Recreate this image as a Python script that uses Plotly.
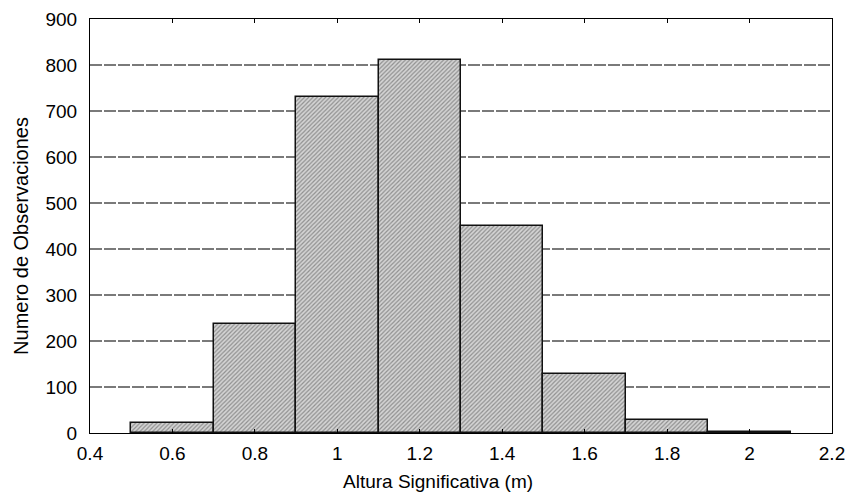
import plotly.graph_objects as go

# Histogram of significant wave height
bin_left = [0.5, 0.7, 0.9, 1.1, 1.3, 1.5, 1.7, 1.9]
bin_width = 0.2
counts = [21, 236, 731, 810, 450, 128, 28, 3]

x_ticks = [0.4, 0.6, 0.8, 1.0, 1.2, 1.4, 1.6, 1.8, 2.0, 2.2]
x_tick_text = ["0.4", "0.6", "0.8", "1", "1.2", "1.4", "1.6", "1.8", "2", "2.2"]
y_ticks = [0, 100, 200, 300, 400, 500, 600, 700, 800, 900]

x_title = "Altura Significativa (m)"
y_title = "Numero de Observaciones"

centers = [b + bin_width / 2 for b in bin_left]

FONT = "Liberation Sans, Arial, sans-serif"

fig = go.Figure()
fig.add_trace(go.Bar(
    x=centers,
    y=counts,
    width=[bin_width] * len(counts),
    marker=dict(
        color="#bdbdbd",
        line=dict(color="#111111", width=1.5),
        pattern=dict(shape="/", fgcolor="#4a4a4a", bgcolor="#d4d4d4",
                     size=3, solidity=0.4),
    ),
    showlegend=False,
))

axis_font = dict(family=FONT, size=19, color="#000000")
fig.update_layout(
    width=847,
    height=499,
    margin=dict(l=90, r=15, t=19, b=66, autoexpand=False),
    paper_bgcolor="white",
    plot_bgcolor="white",
    bargap=0,
    font=dict(family=FONT, color="#000000"),
    xaxis=dict(
        range=[0.4, 2.2],
        tickvals=x_ticks,
        ticktext=x_tick_text,
        tickfont=axis_font,
        ticks="inside",
        ticklen=4,
        tickcolor="#000000",
        ticklabelstandoff=3,
        showline=True,
        linecolor="#000000",
        linewidth=1,
        mirror="ticks",
        showgrid=False,
        zeroline=False,
        automargin=False,
    ),
    yaxis=dict(
        range=[0, 900],
        tickvals=y_ticks,
        tickfont=axis_font,
        ticks="",
        ticklabelstandoff=8,
        showline=True,
        linecolor="#000000",
        linewidth=1,
        mirror=True,
        showgrid=True,
        gridcolor="#7a7a7a",
        gridwidth=1.5,
        griddash="12px,2px",
        zeroline=False,
        automargin=False,
    ),
)

# Axis titles placed relative to the plotting area
fig.add_annotation(text=x_title, xref="paper", yref="paper",
                   x=0.469, y=-0.118, xanchor="center", yanchor="middle",
                   showarrow=False, font=dict(family=FONT, size=19, color="#000000"))
fig.add_annotation(text=y_title, xref="paper", yref="paper",
                   x=-0.093, y=0.476, xanchor="center", yanchor="middle",
                   textangle=-90, showarrow=False,
                   font=dict(family=FONT, size=20, color="#000000"))

fig.write_html("out.html")
